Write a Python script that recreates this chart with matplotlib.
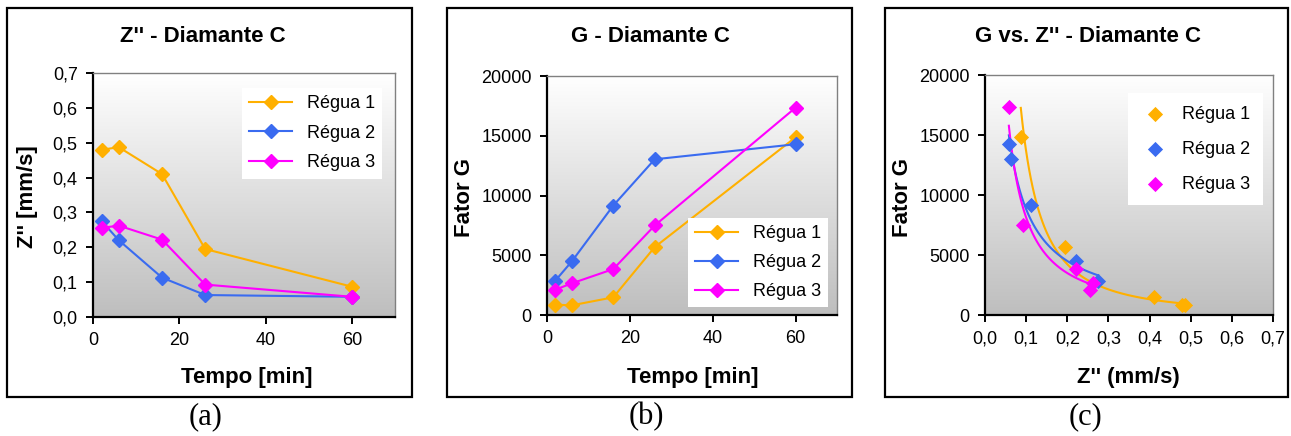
import numpy as np
import matplotlib
matplotlib.use("Agg")
import matplotlib.pyplot as plt
from matplotlib.colors import LinearSegmentedColormap
from matplotlib.patches import Rectangle
from matplotlib.ticker import FuncFormatter

plt.rcParams['font.family'] = ['Liberation Sans', 'DejaVu Sans']

W, H = 1291, 436

tempo = [2, 6, 16, 26, 60]
labels = ["Régua 1", "Régua 2", "Régua 3"]
colors = ['#FFB000', '#3A6BF0', '#FF00FF']

z_regua1 = [0.480, 0.487, 0.410, 0.195, 0.087]
z_regua2 = [0.275, 0.220, 0.113, 0.063, 0.058]
z_regua3 = [0.256, 0.262, 0.222, 0.093, 0.058]

g_regua1 = [860, 810, 1480, 5680, 14870]
g_regua2 = [2870, 4490, 9160, 13030, 14290]
g_regua3 = [2120, 2650, 3840, 7490, 17350]

z_all = [z_regua1, z_regua2, z_regua3]
g_all = [g_regua1, g_regua2, g_regua3]

fig = plt.figure(figsize=(W / 100, H / 100), dpi=100)
grad_cmap = LinearSegmentedColormap.from_list('bg', ['#bebebe', '#ffffff'])


def px_axes(left, top, right, bottom):
    return fig.add_axes([left / W, 1 - bottom / H, (right - left) / W, (bottom - top) / H])


def style(ax):
    ax.imshow(np.linspace(0, 1, 256).reshape(-1, 1), cmap=grad_cmap, origin='lower',
              extent=[0, 1, 0, 1], transform=ax.transAxes, aspect='auto', zorder=0)
    for s in ['left', 'bottom']:
        ax.spines[s].set_linewidth(1.6)
        ax.spines[s].set_color('black')
    for s in ['top', 'right']:
        ax.spines[s].set_linewidth(1.0)
        ax.spines[s].set_color('#808080')
    ax.tick_params(direction='out', length=5, width=1.4, labelsize=13, pad=6)


def comma(v, pos):
    return f"{v:.1f}".replace('.', ',')


def frame_box(left, right, top=8, bottom=397):
    fig.patches.append(Rectangle((left / W, 1 - bottom / H), (right - left) / W, (bottom - top) / H,
                                 transform=fig.transFigure, fill=False, lw=1.6, ec='black'))


# (a) Z'' vs tempo
ax1 = px_axes(93, 73, 395, 317)
style(ax1)
for z, c, lab in zip(z_all, colors, labels):
    ax1.plot(tempo, z, color=c, marker='D', ms=7, lw=1.5, label=lab, zorder=3)
ax1.set_xlim(0, 70)
ax1.set_ylim(0, 0.7)
ax1.set_xticks([0, 20, 40, 60])
ax1.set_yticks(np.arange(0, 0.71, 0.1))
ax1.yaxis.set_major_formatter(FuncFormatter(comma))
ax1.legend(loc='upper right', bbox_to_anchor=(0.957, 0.939), borderaxespad=0,
           fontsize=13, frameon=True, fancybox=False, edgecolor='none',
           facecolor='white', framealpha=1, handlelength=2.4, labelspacing=0.7)

# (b) G vs tempo
ax2 = px_axes(547, 76, 837, 315)
style(ax2)
for g, c, lab in zip(g_all, colors, labels):
    ax2.plot(tempo, g, color=c, marker='D', ms=7, lw=1.5, label=lab, zorder=3)
ax2.set_xlim(0, 70)
ax2.set_ylim(0, 20000)
ax2.set_xticks([0, 20, 40, 60])
ax2.set_yticks(range(0, 20001, 5000))
ax2.legend(loc='lower right', bbox_to_anchor=(0.969, 0.033), borderaxespad=0,
           fontsize=13, frameon=True, fancybox=False, edgecolor='none',
           facecolor='white', framealpha=1, handlelength=2.4, labelspacing=0.65)

# (c) G vs Z'' with power trend lines
ax3 = px_axes(985, 75, 1273, 315)
style(ax3)
for z, g, c, lab in zip(z_all, g_all, colors, labels):
    ax3.scatter(z, g, color=c, marker='D', s=60, label=lab, zorder=3, linewidths=0)
    b, a = np.polyfit(np.log(z), np.log(g), 1)
    xs = np.linspace(min(z), max(z), 100)
    ax3.plot(xs, np.exp(a) * xs ** b, color=c, lw=1.5, zorder=2)
ax3.set_xlim(0, 0.7)
ax3.set_ylim(0, 20000)
ax3.set_xticks(np.arange(0, 0.71, 0.1))
ax3.set_yticks(range(0, 20001, 5000))
ax3.xaxis.set_major_formatter(FuncFormatter(comma))
ax3.legend(loc='upper right', bbox_to_anchor=(0.965, 0.925), borderaxespad=0,
           fontsize=13, frameon=True, fancybox=False, edgecolor='none',
           facecolor='white', framealpha=1, handlelength=1.6, handletextpad=0.7,
           labelspacing=1.0, borderpad=0.7)

# titles and axis labels in pixel positions
tk = dict(fontsize=16, fontweight='bold', ha='center', va='center')
fig.text(203 / W, 1 - 37 / H, "Z'' - Diamante C", **tk)
fig.text(650 / W, 1 - 37 / H, "G - Diamante C", **tk)
fig.text(1088 / W, 1 - 37 / H, "G vs. Z'' - Diamante C", **tk)

lk = dict(fontsize=16, fontweight='bold', ha='center', va='center')
fig.text(247 / W, 1 - 377 / H, "Tempo [min]", **lk)
fig.text(693 / W, 1 - 377 / H, "Tempo [min]", **lk)
fig.text(1128 / W, 1 - 377 / H, "Z'' (mm/s)", **lk)
fig.text(27 / W, 1 - 197 / H, "Z'' [mm/s]", rotation=90, **lk)
fig.text(465 / W, 1 - 197 / H, "Fator G", rotation=90, **lk)
fig.text(903 / W, 1 - 197 / H, "Fator G", rotation=90, **lk)

frame_box(7, 412)
frame_box(447, 852)
frame_box(885, 1288)

pk = dict(fontsize=22, family='Liberation Serif', ha='center', va='center')
fig.text(206 / W, 1 - 417 / H, "(a)", **pk)
fig.text(646 / W, 1 - 417 / H, "(b)", **pk)
fig.text(1086 / W, 1 - 417 / H, "(c)", **pk)

fig.savefig("out.png", dpi=100)
